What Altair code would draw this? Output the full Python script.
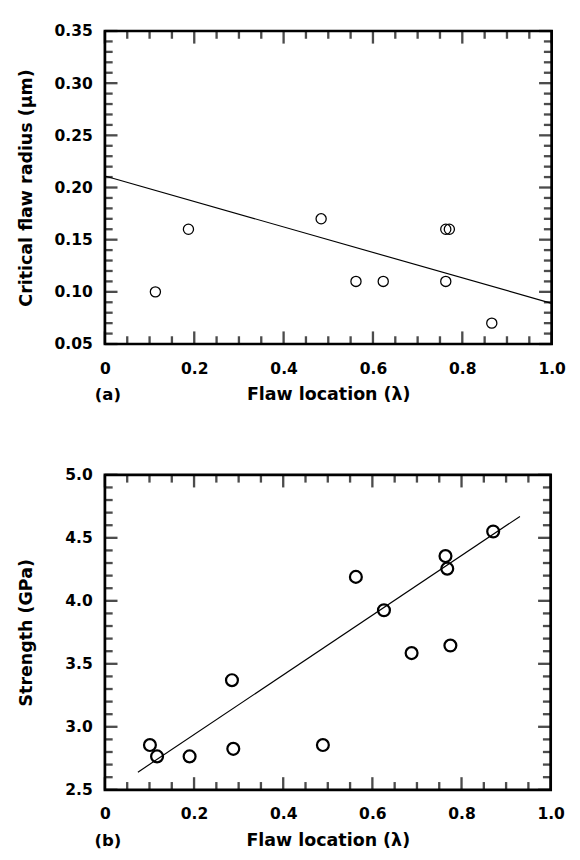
import altair as alt
import pandas as pd

# ---------------- Panel (a): critical flaw radius ----------------
a_x = [0.113, 0.187, 0.484, 0.562, 0.623, 0.763, 0.763, 0.771, 0.866]
a_y = [0.10, 0.16, 0.17, 0.11, 0.11, 0.11, 0.16, 0.16, 0.07]
a_fit_x = [0.0, 1.0]
a_fit_y = [0.211, 0.089]
a_y_major = [0.05, 0.10, 0.15, 0.20, 0.25, 0.30, 0.35]
a_y_minor = [round(0.05 + 0.01 * i, 2) for i in range(31)]

# ---------------- Panel (b): strength ----------------
b_x = [0.101, 0.117, 0.190, 0.285, 0.288, 0.489, 0.563, 0.626, 0.688, 0.764, 0.768, 0.775, 0.871]
b_y = [2.855, 2.765, 2.765, 3.37, 2.825, 2.855, 4.19, 3.925, 3.585, 4.355, 4.255, 3.645, 4.55]
b_fit_x = [0.074, 0.931]
b_fit_y = [2.64, 4.67]
b_y_major = [2.5, 3.0, 3.5, 4.0, 4.5, 5.0]
b_y_minor = [round(2.5 + 0.1 * i, 1) for i in range(26)]

x_major = [0.0, 0.2, 0.4, 0.6, 0.8, 1.0]
x_minor = [round(0.05 * i, 2) for i in range(21)]

x_title = "Flaw location (λ)"
MAJ = 13
MIN = 8
TW = 2.4


def panel(px, py, fx, fy, ydom, ymaj, ymin, yfmt, ytitle, tag, W, H, size, sw):
    X = alt.X(
        "x:Q",
        scale=alt.Scale(domain=[0, 1], nice=False, zero=False),
        axis=alt.Axis(
            values=x_major,
            labelExpr="datum.value == 0 ? '0' : format(datum.value, '.1f')",
            title=x_title,
            labelPadding=17,
            titlePadding=10,
        ),
    )
    Y = alt.Y(
        "y:Q",
        scale=alt.Scale(domain=ydom, nice=False, zero=False),
        axis=alt.Axis(
            values=ymaj,
            format=yfmt,
            title=ytitle,
            labelPadding=13,
            titleX=-81,
            titleBaseline="middle",
        ),
    )
    pts = alt.Chart(pd.DataFrame({"x": px, "y": py})).mark_point(
        shape="circle", filled=False, color="black", size=size, strokeWidth=sw, opacity=1
    ).encode(x=X, y=Y)
    fit = alt.Chart(pd.DataFrame({"x": fx, "y": fy})).mark_line(
        color="black", strokeWidth=1.2
    ).encode(x=X, y=Y)

    layers = [fit, pts]
    xmin_vals = [v for v in x_minor if v not in x_major]
    ymin_vals = [v for v in ymin if v not in ymaj]
    dxM = pd.DataFrame({"x": x_major})
    dxm = pd.DataFrame({"x": xmin_vals})
    dyM = pd.DataFrame({"y": ymaj})
    dym = pd.DataFrame({"y": ymin_vals})
    tk = dict(color="black", thickness=TW)
    layers.append(alt.Chart(dxM).mark_tick(size=MAJ, orient="vertical", **tk).encode(
        x=X, y=alt.value(H - MAJ / 2)))
    layers.append(alt.Chart(dxm).mark_tick(size=MIN, orient="vertical", **tk).encode(
        x=X, y=alt.value(H - MIN / 2)))
    layers.append(alt.Chart(dxM).mark_tick(size=MAJ, orient="vertical", **tk).encode(
        x=X, y=alt.value(MAJ / 2)))
    layers.append(alt.Chart(dxm).mark_tick(size=MIN, orient="vertical", **tk).encode(
        x=X, y=alt.value(MIN / 2)))
    layers.append(alt.Chart(dyM).mark_tick(size=MAJ, orient="horizontal", **tk).encode(
        y=Y, x=alt.value(MAJ / 2)))
    layers.append(alt.Chart(dym).mark_tick(size=MIN, orient="horizontal", **tk).encode(
        y=Y, x=alt.value(MIN / 2)))
    layers.append(alt.Chart(dyM).mark_tick(size=MAJ, orient="horizontal", **tk).encode(
        y=Y, x=alt.value(W - MAJ / 2)))
    layers.append(alt.Chart(dym).mark_tick(size=MIN, orient="horizontal", **tk).encode(
        y=Y, x=alt.value(W - MIN / 2)))
    lab = alt.Chart(pd.DataFrame({"t": [tag]})).mark_text(
        font="DejaVu Sans", fontSize=17, fontWeight="bold", color="black",
        align="center", baseline="alphabetic"
    ).encode(text="t:N", x=alt.value(3), y=alt.value(H + 58))
    layers.append(lab)
    return alt.layer(*layers).properties(width=W, height=H)


top = panel(a_x, a_y, a_fit_x, a_fit_y, [0.05, 0.35], a_y_major, a_y_minor, ".2f",
            "Critical flaw radius (μm)", "(a)", 461, 323, 110, 1.3)
bottom = panel(b_x, b_y, b_fit_x, b_fit_y, [2.5, 5.0], b_y_major, b_y_minor, ".1f",
               "Strength (GPa)", "(b)", 460, 325, 150, 2.3)

chart = alt.vconcat(top, bottom, spacing=62).properties(
    padding={"left": 8, "top": 0, "right": 5, "bottom": 5},
    background="white",
).configure_view(
    stroke="black", strokeWidth=2.8
).configure_axis(
    labelFont="DejaVu Sans", labelFontSize=16, labelFontWeight="bold", labelColor="black",
    titleFont="DejaVu Sans", titleFontSize=18, titleFontWeight="bold", titleColor="black",
    ticks=False, domain=False, grid=False, labelFlush=False, labelOverlap=False,
)

chart.save("out.html", embed_options={"renderer": "svg", "actions": False})
